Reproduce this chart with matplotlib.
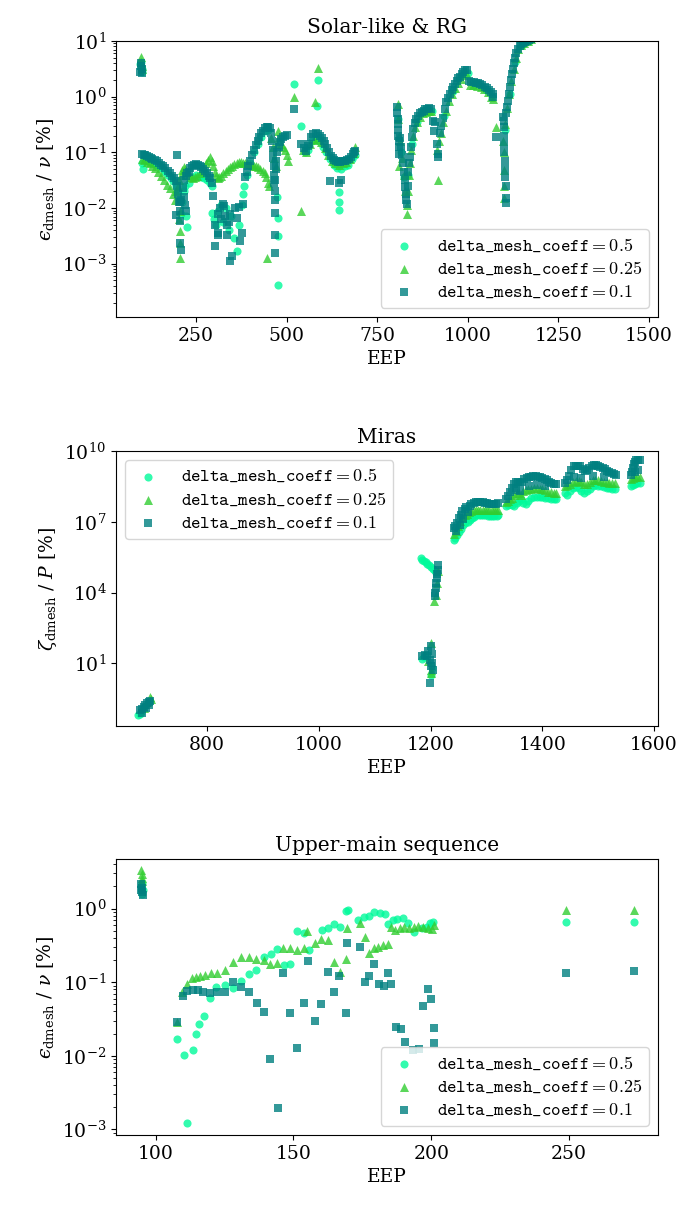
import matplotlib
matplotlib.use("Agg")
import matplotlib.pyplot as plt
from matplotlib.ticker import MultipleLocator, NullLocator
from matplotlib.font_manager import FontProperties
import numpy as np

plt.rcParams['font.family'] = ['DejaVu Serif']
plt.rcParams['mathtext.fontset'] = 'dejavuserif'
plt.rcParams['font.size'] = 13.5

labels = [r'$\mathtt{delta\_mesh\_coeff} = 0.5$',
          r'$\mathtt{delta\_mesh\_coeff} = 0.25$',
          r'$\mathtt{delta\_mesh\_coeff} = 0.1$']
colors = ['mediumspringgreen', 'limegreen', 'teal']
markers = ['o', '^', 's']
sizes = [34, 42, 30]

### Solar-like & RG  (values as log10 of epsilon/nu in %)
sl_c_eep = [97, 98, 99, 100, 101,
            102, 105, 110, 118, 126, 134, 142, 150, 158, 166, 174, 182, 188, 194, 200, 205, 208, 212, 216, 220,
            224, 226, 232, 240, 250, 258, 265, 272, 280, 288, 293, 293, 300, 305, 310, 318, 325, 332, 340, 348,
            355, 362, 370, 376, 380, 384,
            390, 400, 410, 420, 430, 440, 450, 474, 476, 476, 476,
            521, 541, 583, 587,
            550, 560, 570, 580, 590, 600, 610, 620, 630, 640, 645, 645, 645, 650, 660, 670, 680, 690,
            808, 815, 825, 835, 845, 860, 880, 900, 935, 960, 985, 1000, 1020, 1050, 1068, 1102, 1115, 1130,
            1150, 1170]
sl_c_lg = [0.58, 0.62, 0.55, 0.5, 0.45,
           -1.2, -1.3, -1.15, -1.15, -1.17, -1.2, -1.23, -1.26, -1.3, -1.35, -1.4, -1.46, -1.52, -1.6, -1.7,
           -1.85, -2.1, -1.9, -1.7, -1.6,
           -2.15, -2.35, -1.55, -1.45, -1.4, -1.42, -1.45, -1.47, -1.5, -1.55, -1.6, -2.09, -2.2, -2.3, -2.05,
           -1.95, -2.25, -2.0, -2.4, -2.15,
           -2.54, -2.78, -2.3, -1.95, -1.75, -1.6,
           -1.4, -1.2, -1.0, -0.85, -0.72, -0.62, -0.6, -1.8, -2.18, -2.5, -3.38,
           0.22, -0.52, -0.17, 0.29,
           -1.0, -0.95, -0.8, -0.77, -0.8, -0.9, -1.0, -1.12, -1.22, -1.28, -1.72, -1.9, -2.04, -1.3, -1.25,
           -1.22, -1.12, -1.05,
           -0.4, -1.0, -1.45, -1.4, -0.85, -0.45, -0.28, -0.25, -0.35, 0.1, 0.38, 0.42, 0.22, 0.12, 0.0, -0.6,
           0.05, 0.62, 0.93, 1.0]

sl_t_eep = [98, 99, 100, 101,
            102, 108, 115, 122, 130, 138, 146, 154, 162, 170, 178, 186, 192, 196, 200, 204, 208, 212, 216, 220,
            204, 205, 206, 206, 206,
            224, 230, 236, 242, 248, 254, 260, 266, 272, 278, 284, 290, 294, 298, 302, 306, 310, 315, 320, 326,
            332, 338, 344, 350, 356, 362, 368, 374, 380, 386, 392, 398, 404, 410, 416, 422, 428, 434, 440, 444,
            448, 452, 447,
            458, 462, 466, 470, 474, 476, 480, 485, 490, 495, 500, 505,
            521, 578, 587, 541,
            545, 555, 565, 575, 585, 595, 605, 615, 625, 635, 645, 655, 665, 675, 685, 690,
            807, 808, 809, 810, 812, 818, 824, 828, 831, 831, 834, 837, 840, 844, 848, 853, 860, 868, 876, 884,
            892, 898,
            915, 918, 921,
            925, 932, 940, 948, 956, 964, 972, 980, 988, 996,
            1005, 1015, 1025, 1035, 1045, 1055, 1065, 1070, 1077,
            1100, 1100, 1101, 1098, 1099,
            1102, 1108, 1114, 1120, 1126, 1132, 1138, 1146, 1155, 1165, 1175]
sl_t_lg = [0.71, 0.62, 0.55, 0.5,
           -1.12, -1.14, -1.17, -1.2, -1.24, -1.29, -1.35, -1.42, -1.5, -1.58, -1.65, -1.75, -1.85, -1.7, -1.6,
           -1.5, -1.4, -1.32, -1.27, -1.3,
           -2.2, -2.05, -2.42, -2.63, -2.9,
           -1.35, -1.4, -1.45, -1.47, -1.45, -1.42, -1.38, -1.33, -1.27, -1.2, -1.13, -1.09, -1.15, -1.25, -1.35,
           -1.42, -1.46, -1.45, -1.42, -1.38,
           -1.34, -1.3, -1.27, -1.24, -1.21, -1.19, -1.18, -1.18, -1.19, -1.2, -1.2, -1.21, -1.22, -1.24, -1.25,
           -1.27, -1.3, -1.33, -1.38, -1.45,
           -1.55, -1.6, -2.89,
           -0.75, -0.9, -1.1, -1.25, -0.85, -0.61, -0.72, -0.85, -0.9, -0.95, -1.05, -1.15,
           0.0, -0.10, 0.51, -2.06,
           -0.95, -1.0, -0.85, -0.78, -0.76, -0.82, -0.92, -1.05, -1.15, -1.2, -1.22, -1.2, -1.18, -1.12, -1.02,
           -0.9,
           -0.13, -0.4, -0.7, -1.24, -0.8, -1.1, -1.4, -1.7, -2.1, -1.95, -1.7, -1.4, -1.2, -0.95, -0.7, -0.55,
           -0.45, -0.36, -0.3, -0.27, -0.25, -0.25,
           -0.95, -1.5, -0.8,
           -0.65, -0.45, -0.25, -0.08, 0.05, 0.15, 0.25, 0.32, 0.38, 0.42,
           0.2, 0.2, 0.19, 0.17, 0.13, 0.08, 0.0, -0.05, -0.55,
           -1.31, -1.6, -1.82, -0.8, -1.0,
           -0.5, -0.2, 0.05, 0.28, 0.5, 0.7, 0.85, 0.93, 0.97, 1.0, 1.03]

sl_s_eep = [97, 98, 99, 100, 101,
            102, 106, 110, 115, 120, 125, 130, 136, 142, 148, 154, 160, 166, 172, 178, 184, 190, 195,
            198, 201, 203, 205, 207, 210, 214, 218, 222, 226, 216, 220, 224,
            230, 235, 240, 245, 250, 255, 260, 265, 270, 275, 280, 285, 290, 293,
            198.5, 194, 206, 208.6, 207, 297.7, 302.4, 304, 309.8, 316, 327, 334.6, 337, 343.7, 350, 357.5,
            364, 371.3, 377.7, 380.5, 320, 312, 330, 345, 340, 368, 325, 311,
            385, 390, 395, 400, 405, 410, 415, 420, 425, 430, 435, 440, 445, 450, 455, 458, 460, 462, 463,
            464, 465, 466, 467, 467, 468, 468, 469,
            468, 470, 472, 475, 478, 482, 486, 490, 495, 500,
            521,
            541, 548, 555, 562, 568, 573, 580, 587, 592, 597, 602, 607, 612, 617, 622, 627, 632, 637, 642, 647,
            652, 657, 662, 667, 672, 677, 682, 687, 690, 560, 619, 645, 650,
            806, 806, 807, 807, 808, 808, 809, 809, 810,
            812, 815, 818, 821, 824, 826, 828, 829, 830, 831,
            834, 836, 838, 840, 843, 846, 849, 853, 858, 863, 868, 873, 878, 883, 888, 893, 898,
            904, 908, 910, 914, 918, 918,
            922, 927, 932, 937, 941, 946, 950, 955, 959, 964, 969, 974, 978, 983, 988, 993, 998,
            1003, 1010, 1016, 1022, 1028, 1034, 1040, 1046, 1052, 1058, 1064, 1069, 1070,
            1079,
            1097, 1099, 1100, 1101, 1101, 1102, 1102, 1103, 1104, 1105, 1105,
            1100, 1104, 1107, 1110, 1113, 1116, 1119, 1122, 1125, 1128, 1131, 1134, 1138, 1143, 1148, 1153,
            1158, 1163, 1168, 1173]
sl_s_lg = [0.45, 0.55, 0.6, 0.5, 0.42,
           -1.03, -1.04, -1.05, -1.06, -1.08, -1.10, -1.12, -1.14, -1.16, -1.19, -1.22, -1.25, -1.29, -1.33,
           -1.37, -1.42, -1.47, -1.52,
           -1.6, -1.75, -1.9, -2.05, -1.9, -1.85, -1.65, -1.5, -1.42, -1.38, -1.8, -1.95, -2.05,
           -1.35, -1.28, -1.24, -1.22, -1.21, -1.22, -1.24, -1.27, -1.30, -1.33, -1.37, -1.42, -1.47, -1.55,
           -1.05, -2.12, -2.24, -2.75, -2.63, -1.78, -2.69, -2.30, -2.48, -2.0, -1.97, -2.30, -2.48, -2.96,
           -2.87, -2.0,
           -2.18, -2.6, -2.45, -1.93, -2.2, -2.1, -2.15, -2.1, -2.25, -1.98, -1.93, -2.45,
           -1.45, -1.35, -1.25, -1.15, -1.05, -0.95, -0.87, -0.79, -0.72, -0.66, -0.61, -0.57, -0.55, -0.55,
           -0.57, -0.65, -0.8, -0.95, -1.1,
           -1.25, -1.4, -1.55, -1.7, -1.85, -2.09, -2.48, -2.81,
           -1.5, -1.3, -1.15, -1.0, -0.9, -0.82, -0.76, -0.72, -0.70, -0.69,
           -0.22,
           -0.85, -0.92, -0.97, -0.85, -0.72, -0.67, -0.66, -0.68, -0.70, -0.74, -0.80, -0.86, -0.93, -1.0,
           -1.06, -1.10, -1.13, -1.15, -1.17, -1.17,
           -1.16, -1.15, -1.15, -1.14, -1.12, -1.08, -1.03, -0.99, -0.97, -0.88, -1.51, -1.56, -1.5,
           -0.19, -0.3, -0.4, -0.5, -0.6, -0.7, -0.8, -0.9, -1.03,
           -0.75, -0.9, -1.05, -1.2, -1.35, -1.5, -1.62, -1.75, -1.85, -1.93,
           -1.6, -1.35, -1.2, -1.09, -0.9, -0.72, -0.58, -0.48, -0.4, -0.34, -0.30, -0.27, -0.25, -0.23, -0.22,
           -0.21, -0.22,
           -0.43, -0.62, -0.45, -0.85, -1.03, -1.09,
           -0.65, -0.52, -0.38, -0.22, -0.10, -0.02, 0.05, 0.12, 0.17, 0.23, 0.28, 0.33, 0.36, 0.40, 0.44,
           0.47, 0.48,
           0.28, 0.27, 0.26, 0.25, 0.24, 0.22, 0.20, 0.18, 0.16, 0.12, 0.08, 0.04, 0.0,
           -0.73,
           -0.37, -0.55, -0.7, -0.85, -1.0, -1.15, -1.3, -1.45, -1.6, -1.82, -1.91,
           -0.43, -0.3, -0.18, -0.07, 0.05, 0.17, 0.29, 0.4, 0.5, 0.6, 0.7, 0.78, 0.86, 0.91, 0.94, 0.96,
           0.98, 1.0, 1.02, 1.04]

### Miras  (log10 of zeta/P in %)
mi_c_eep = [676, 679, 682,
            1184, 1188, 1200, 1203,
            1182, 1185, 1188, 1191, 1194, 1197, 1200, 1204, 1207,
            1241, 1244, 1247, 1250, 1254, 1258, 1262, 1266, 1270, 1274, 1278, 1282, 1286, 1290, 1294, 1298,
            1302, 1306, 1310, 1314, 1318, 1321,
            1334, 1338, 1342, 1346, 1350, 1354, 1358, 1362, 1366, 1370, 1375, 1380, 1385, 1390, 1395, 1400,
            1405, 1410, 1415, 1420, 1425,
            1440, 1445, 1450, 1455, 1460, 1465, 1470, 1475, 1480, 1485, 1490, 1495, 1500, 1505, 1510, 1515,
            1520, 1525, 1530,
            1558, 1562, 1566, 1570, 1574]
mi_c_lg = [-1.2, -1.15, -1.05,
           1.2, 1.25, 0.5, 0.8,
           5.45, 5.4, 5.33, 5.28, 5.2, 5.15, 5.1, 5.0, 4.9,
           6.23, 6.3, 6.45, 6.55, 6.7, 6.85, 6.95, 7.0, 7.08, 7.15, 7.22, 7.27, 7.3, 7.3, 7.28, 7.27,
           7.25, 7.25, 7.25, 7.25, 7.25, 7.27,
           7.65, 7.7, 7.75, 7.7, 7.65, 7.8, 7.9, 7.95, 7.8, 7.75, 7.9, 8.0, 8.05, 8.07, 8.07, 8.05,
           8.02, 8.0, 7.97, 7.95, 7.95,
           8.2, 8.15, 8.3, 8.45, 8.48, 8.45, 8.3, 8.2, 8.3, 8.4, 8.5, 8.55, 8.52, 8.5, 8.48, 8.45,
           8.42, 8.4, 8.38,
           8.5, 8.55, 8.62, 8.65, 8.65]

mi_t_eep = [686, 692, 697, 700,
            1196, 1201, 1201, 1201,
            1206, 1209, 1212, 1214,
            1241, 1245, 1249, 1253, 1257, 1261, 1265, 1269, 1273, 1277, 1281, 1285, 1289, 1293, 1297, 1301,
            1305, 1309, 1313, 1317, 1321,
            1334, 1338, 1342, 1346, 1350, 1354, 1358, 1362, 1366, 1370, 1375, 1380, 1385, 1390, 1395, 1400,
            1405, 1410, 1415, 1420, 1425,
            1440, 1445, 1450, 1455, 1460, 1465, 1470, 1475, 1480, 1485, 1490, 1495, 1500, 1505, 1510, 1515,
            1520, 1525, 1530,
            1558, 1562, 1566, 1570, 1574]
mi_t_lg = [-0.9, -0.65, -0.45, -0.5,
           1.1, 1.86, 0.73, 0.6,
           3.62, 3.9, 4.4, 4.9,
           6.5, 6.6, 6.8, 7.05, 7.2, 7.3, 7.35, 7.4, 7.45, 7.5, 7.52, 7.52, 7.5, 7.5, 7.48, 7.48,
           7.48, 7.48, 7.48, 7.48, 7.5,
           7.85, 7.9, 7.95, 8.0, 8.15, 8.2, 8.2, 8.15, 8.3, 8.35, 8.38, 8.4, 8.42, 8.42, 8.4, 8.38,
           8.33, 8.28, 8.25, 8.23, 8.22,
           8.5, 8.55, 8.6, 8.7, 8.72, 8.72, 8.7, 8.62, 8.62, 8.68, 8.75, 8.77, 8.75, 8.72, 8.7, 8.68,
           8.66, 8.65, 8.65,
           8.8, 8.85, 8.9, 8.92, 8.9]

mi_s_eep = [680, 683, 686, 689, 692, 695, 698, 684, 690, 696,
            1184, 1190, 1193, 1196, 1199, 1199, 1200, 1201, 1202, 1203, 1204,
            1214, 1213, 1212, 1211, 1210, 1209, 1208, 1207,
            1241, 1244, 1246, 1248, 1250, 1252, 1254, 1256, 1258, 1261, 1264, 1267, 1270, 1273, 1277, 1281,
            1285, 1289, 1293, 1297, 1301, 1305, 1309, 1313, 1317, 1321,
            1334, 1338, 1342, 1346, 1349, 1352, 1352, 1356, 1360, 1360, 1364, 1368, 1372, 1376, 1380, 1384,
            1388, 1392, 1396, 1400, 1404, 1408, 1412, 1416, 1420, 1425, 1376, 1390, 1405,
            1440, 1444, 1448, 1452, 1456, 1460, 1464, 1468, 1472, 1476, 1480, 1484, 1488, 1492, 1496, 1500,
            1504, 1508, 1512, 1516, 1520, 1524, 1528, 1532, 1456, 1470, 1490, 1510,
            1558, 1560, 1562, 1564, 1566, 1568, 1571, 1574, 1566, 1572]
mi_s_lg = [-1.0, -0.92, -0.85, -0.78, -0.7, -0.64, -0.6, -1.1, -0.9, -0.75,
           1.30, 1.35, 1.30, 1.5, 1.15, 0.17, 0.9, 1.72, 1.02, 1.4, 0.73,
           5.17, 4.95, 4.8, 4.6, 4.4, 4.2, 3.98, 3.84,
           6.72, 6.8, 6.6, 6.95, 7.15, 6.85, 7.3, 7.45, 7.1, 7.55, 7.62, 7.4, 7.68, 7.75, 7.8, 7.83,
           7.85, 7.85, 7.83, 7.8, 7.78, 7.77, 7.77, 7.77, 7.77, 7.78,
           7.95, 8.1, 8.25, 8.45, 8.6, 8.7, 8.35, 8.7, 8.65, 8.3, 8.7, 8.82, 8.85, 8.88, 8.9, 8.92,
           8.92, 8.9, 8.88, 8.85, 8.8, 8.75, 8.7, 8.65, 8.62, 8.6, 8.5, 8.55, 8.5,
           8.65, 8.75, 8.95, 9.2, 9.35, 9.38, 9.38, 9.35, 9.25, 9.15, 9.2, 9.3, 9.38, 9.4, 9.4, 9.37,
           9.33, 9.28, 9.22, 9.17, 9.12, 9.07, 9.03, 9.0, 8.9, 8.85, 8.95, 8.9,
           9.0, 9.1, 9.3, 9.45, 9.55, 9.6, 9.63, 9.62, 9.1, 9.2]

### Upper-main sequence  (log10 of epsilon/nu in %)
um_c_eep = [94.6, 95.0, 95.4, 95.0,
            107.9, 110.2, 111.5, 113.4, 114.6, 115.8, 117.7, 119.6, 122.0, 125.0, 128.0, 131.0, 133.8, 136.5,
            139.2, 141.8, 144.1, 146.5, 148.7, 151.3, 153.7, 155.5, 160.2, 162.4, 164.6, 166.8, 168.9, 169.8,
            173.6, 175.5, 177.3, 179.1, 181.5, 183.3, 184.5, 186.2, 187.5, 189.9, 191.5, 193.6, 196.6, 198.5,
            199.6, 200.5, 248.9, 273.5]
um_c_lg = [0.30, 0.35, 0.25, 0.2,
           -1.77, -1.99, -2.91, -1.92, -1.71, -1.57, -1.46, -1.22, -1.06, -1.04, -1.08, -0.99, -0.89, -0.84,
           -0.66, -0.62, -0.55, -0.77, -0.76, -0.31, -0.33, -0.57, -0.29, -0.26, -0.21, -0.25, -0.03, -0.02,
           -0.15, -0.11, -0.10, -0.05, -0.06, -0.07, -0.21, -0.15, -0.145, -0.13, -0.2, -0.32, -0.27, -0.25,
           -0.2, -0.18, -0.18, -0.18]

um_t_eep = [94.8, 95.0, 95.2, 95.0,
            107.9, 109.5, 111.3, 113.2, 114.7, 116.2, 118.0, 120.0, 122.4, 125.3, 128.0, 131.0, 133.9, 136.5,
            139.2, 141.6, 144.1, 146.1, 148.7, 151.3, 153.7, 155.1, 157.9, 160.0, 162.4, 164.6, 166.8, 168.9,
            169.5, 174.0, 175.8, 177.6, 179.1, 180.8, 182.5, 184.2, 185.3, 186.9, 188.5, 190.2, 191.9, 193.6,
            195.3, 197.0, 198.7, 200.2, 201.0, 248.9, 273.5]
um_t_lg = [0.52, 0.47, 0.42, 0.38,
           -1.54, -1.13, -1.03, -0.95, -0.93, -0.91, -0.90, -0.88, -0.88, -0.84, -0.72, -0.66, -0.66, -0.68,
           -0.70, -0.75, -0.74, -0.54, -0.53, -0.57, -0.53, -0.30, -0.47, -0.42, -0.43, -0.72, -0.86, -0.68,
           -0.27, -0.20, -0.39, -0.60, -0.54, -0.52, -0.50, -0.48, -0.25, -0.29, -0.27, -0.25, -0.26, -0.25,
           -0.24, -0.25, -0.26, -0.28, -0.23, -0.02, -0.02]

um_s_eep = [94.8, 95.0, 95.2, 95.4, 94.8,
            107.9, 110.0, 111.3, 113.7, 115.5, 117.3, 119.7, 122.2, 125.0, 128.0, 130.8, 133.8, 136.6, 139.2,
            141.6, 144.3, 146.1, 148.7, 151.3, 153.8, 155.3, 157.9, 160.1, 162.4, 164.6, 166.7, 168.9, 169.6,
            174.0, 175.8, 177.6, 179.3, 181.0, 182.7, 184.5, 185.3, 187.2, 189.0, 190.5, 193.5, 195.4, 197.2,
            198.7, 200.0, 201.1, 200.9, 248.9, 273.5]
um_s_lg = [0.33, 0.28, 0.22, 0.18, 0.25,
           -1.54, -1.19, -1.12, -1.10, -1.11, -1.13, -1.15, -1.13, -1.13, -1.0, -1.06, -1.13, -1.28, -1.40,
           -2.04, -2.71, -0.87, -1.42, -1.89, -1.28, -0.71, -1.53, -1.30, -0.86, -1.14, -0.92, -1.42, -0.47,
           -0.52, -1.0, -0.91, -0.76, -1.02, -1.05, -0.87, -1.02, -1.61, -1.64, -1.81, -1.92, -1.91, -1.33,
           -1.09, -1.23, -1.62, -1.82, -0.88, -0.85]

eps_label = '$\u03f5_{\\rm dmesh}$ / $\\nu$ [%]'
zeta_label = r'$\zeta_{\rm dmesh}$ / $P$ [%]'


def panel(ax, series, title, ylabel, legend_loc):
    for (eep, lg), lab, c, m, s in zip(series, labels, colors, markers, sizes):
        ax.scatter(eep, 10 ** np.array(lg), s=s, marker=m, c=c, alpha=0.8,
                   linewidths=0, label=lab)
    ax.set_yscale('log')
    ax.set_title(title, fontsize=14.5)
    ax.set_xlabel('EEP')
    ax.set_ylabel(ylabel)
    leg_font = FontProperties(size=13, math_fontfamily='cm')
    ax.legend(loc=legend_loc, prop=leg_font, scatterpoints=1, handletextpad=0.9,
              borderpad=0.4, labelspacing=0.28, handlelength=1.8)


fig = plt.figure(figsize=(6.81, 12.15), dpi=100)

ax1 = fig.add_axes([0.1703, 0.7391, 0.7959, 0.2272])
panel(ax1, [(sl_c_eep, sl_c_lg), (sl_t_eep, sl_t_lg), (sl_s_eep, sl_s_lg)],
      'Solar-like & RG', eps_label, 'lower right')
ax1.set_xlim(29.5, 1524.5)
ax1.set_ylim(1.1e-4, 10)
ax1.xaxis.set_major_locator(MultipleLocator(250))

ax2 = fig.add_axes([0.1703, 0.4025, 0.7959, 0.2263])
panel(ax2, [(mi_c_eep, mi_c_lg), (mi_t_eep, mi_t_lg), (mi_s_eep, mi_s_lg)],
      'Miras', zeta_label, 'upper left')
ax2.set_xlim(636.6, 1607)
ax2.set_ylim(0.022, 1e10)
ax2.set_yticks([1e1, 1e4, 1e7, 1e10])
ax2.yaxis.set_minor_locator(NullLocator())
ax2.xaxis.set_major_locator(MultipleLocator(200))

ax3 = fig.add_axes([0.1703, 0.0658, 0.7959, 0.2272])
panel(ax3, [(um_c_eep, um_c_lg), (um_t_eep, um_t_lg), (um_s_eep, um_s_lg)],
      'Upper-main sequence', eps_label, 'lower right')
ax3.set_xlim(85.6, 282.3)
ax3.set_ylim(8.4e-4, 4.7)
ax3.xaxis.set_major_locator(MultipleLocator(50))

plt.savefig('out.png', dpi=100)
